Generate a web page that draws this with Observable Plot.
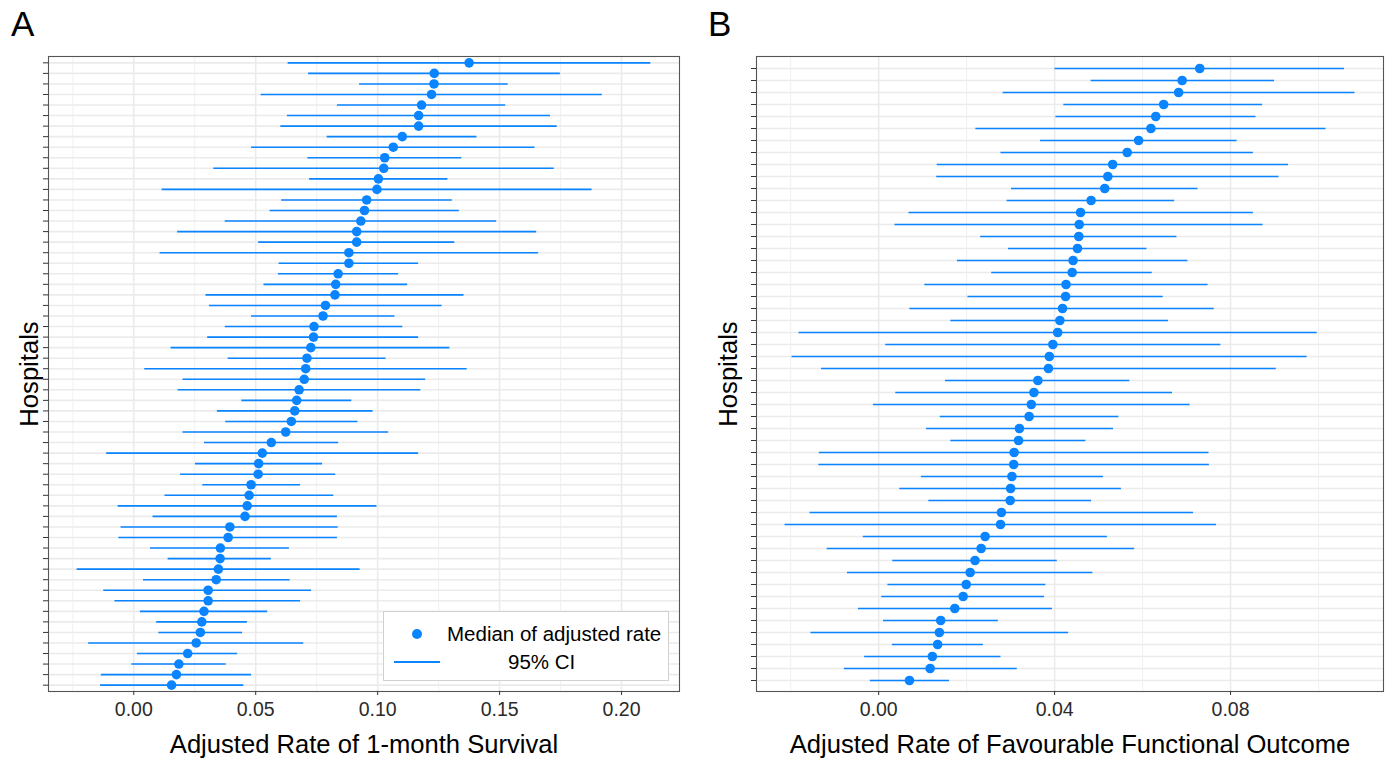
<!DOCTYPE html>
<html>
<head>
<meta charset="utf-8">
<script src="https://cdn.jsdelivr.net/npm/d3@7"></script>
<script src="https://cdn.jsdelivr.net/npm/@observablehq/plot@0.6"></script>
<style>
  html, body { margin: 0; padding: 0; background: #fff; }
  #root { position: relative; width: 1389px; height: 759px; font-family: "Liberation Sans", Arial, Helvetica, sans-serif; overflow: hidden; }
  .panel { position: absolute; top: 0; }
  .tag { position: absolute; font-size: 35px; line-height: 1; color: #000; }
  .legend { position: absolute; background: #fff; border: 1px solid #d0d0d0; box-sizing: border-box; }
  .legend .txt { position: absolute; font-size: 20.5px; color: #000; line-height: 1; white-space: nowrap; }
</style>
</head>
<body>
<div id="root"></div>
<script>
// ---------- Panel A: Adjusted Rate of 1-month Survival (top row to bottom row) ----------
const hospitalsA = Array.from({length: 60}, (_, i) => "A" + (i + 1));
const medianA = [0.1375,0.1232,0.1231,0.1221,0.1180,0.1168,0.1168,0.1101,0.1064,0.1029,0.1025,0.1003,0.0997,0.0955,0.0946,0.0931,0.0914,0.0914,0.0882,0.0882,0.0838,0.0828,0.0825,0.0786,0.0776,0.0739,0.0737,0.0726,0.0710,0.0705,0.0699,0.0678,0.0668,0.0660,0.0646,0.0623,0.0564,0.0527,0.0512,0.0510,0.0481,0.0473,0.0465,0.0456,0.0394,0.0387,0.0355,0.0354,0.0347,0.0338,0.0305,0.0305,0.0288,0.0279,0.0273,0.0256,0.0221,0.0185,0.0175,0.0155];
const lowerA = [0.0633,0.0717,0.0926,0.0522,0.0835,0.0630,0.0603,0.0793,0.0483,0.0714,0.0328,0.0721,0.0116,0.0606,0.0559,0.0375,0.0180,0.0512,0.0108,0.0596,0.0593,0.0534,0.0296,0.0310,0.0483,0.0375,0.0303,0.0153,0.0387,0.0045,0.0202,0.0182,0.0443,0.0343,0.0377,0.0202,0.0290,-0.0111,0.0253,0.0192,0.0283,0.0128,-0.0064,0.0079,-0.0052,-0.0061,0.0069,0.0141,-0.0232,0.0040,-0.0123,-0.0077,0.0027,0.0094,0.0103,-0.0185,0.0015,-0.0008,-0.0133,-0.0136];
const upperA = [0.2120,0.1749,0.1535,0.1921,0.1525,0.1709,0.1736,0.1407,0.1645,0.1345,0.1724,0.1288,0.1879,0.1306,0.1335,0.1488,0.1652,0.1316,0.1660,0.1168,0.1086,0.1123,0.1354,0.1264,0.1071,0.1103,0.1168,0.1296,0.1034,0.1367,0.1197,0.1177,0.0894,0.0981,0.0919,0.1045,0.0840,0.1168,0.0774,0.0828,0.0684,0.0820,0.0997,0.0835,0.0838,0.0835,0.0638,0.0564,0.0928,0.0641,0.0729,0.0684,0.0549,0.0466,0.0446,0.0697,0.0426,0.0379,0.0483,0.0451];
const ticksA = [0.00, 0.05, 0.10, 0.15, 0.20];
const minorA = [-0.025, 0.025, 0.075, 0.125, 0.175];
const titleA = "Adjusted Rate of 1-month Survival";

// ---------- Panel B: Adjusted Rate of Favourable Functional Outcome ----------
const hospitalsB = Array.from({length: 52}, (_, i) => "B" + (i + 1));
const medianB = [0.0730,0.0690,0.0682,0.0648,0.0630,0.0619,0.0591,0.0565,0.0532,0.0521,0.0514,0.0483,0.0459,0.0456,0.0455,0.0452,0.0442,0.0440,0.0426,0.0425,0.0418,0.0412,0.0407,0.0396,0.0388,0.0386,0.0362,0.0353,0.0347,0.0342,0.0320,0.0318,0.0308,0.0307,0.0303,0.0300,0.0299,0.0279,0.0277,0.0242,0.0233,0.0219,0.0208,0.0199,0.0192,0.0173,0.0141,0.0138,0.0134,0.0122,0.0117,0.0070];
const lowerB = [0.0401,0.0483,0.0283,0.0421,0.0403,0.0221,0.0368,0.0278,0.0133,0.0132,0.0302,0.0292,0.0069,0.0037,0.0232,0.0295,0.0179,0.0257,0.0105,0.0203,0.0071,0.0164,-0.0181,0.0016,-0.0197,-0.0130,0.0152,0.0039,-0.0012,0.0140,0.0109,0.0164,-0.0135,-0.0136,0.0097,0.0048,0.0114,-0.0156,-0.0213,-0.0035,-0.0117,0.0032,-0.0071,0.0021,0.0007,-0.0046,0.0011,-0.0154,0.0031,-0.0032,-0.0078,-0.0019];
const upperB = [0.1059,0.0900,0.1083,0.0873,0.0858,0.1017,0.0815,0.0852,0.0932,0.0910,0.0726,0.0673,0.0852,0.0874,0.0678,0.0610,0.0703,0.0622,0.0749,0.0647,0.0763,0.0659,0.0997,0.0778,0.0974,0.0904,0.0571,0.0668,0.0708,0.0546,0.0534,0.0471,0.0751,0.0752,0.0511,0.0552,0.0484,0.0716,0.0768,0.0520,0.0582,0.0406,0.0487,0.0380,0.0377,0.0395,0.0272,0.0432,0.0238,0.0278,0.0315,0.0161];
const ticksB = [0.00, 0.04, 0.08];
const minorB = [-0.02, 0.02, 0.06, 0.10];
const titleB = "Adjusted Rate of Favourable Functional Outcome";

const legendLabels = ["Median of adjusted rate", "95% CI"];
const BLUE = "#0a84ff";

function panel(ids, med, lo, hi, ticks, minor, title, opts) {
  const rows = ids.map((id, i) => ({id, med: med[i], lo: lo[i], hi: hi[i]}));
  const mn = d3.min(lo), mx = d3.max(hi), pad = (mx - mn) * 0.05;
  return Plot.plot({
    width: opts.width, height: 759,
    marginLeft: opts.marginLeft, marginRight: opts.marginRight,
    marginTop: 56, marginBottom: 68,
    style: {fontFamily: '"Liberation Sans", Arial, Helvetica, sans-serif', background: "#fff", color: "#333", fontSize: "19.5px"},
    x: {domain: [mn - pad, mx + pad]},
    y: {type: "point", domain: ids, padding: 0.6},
    marks: [
      Plot.ruleX(minor, {stroke: "#efefef", strokeWidth: 0.9}),
      Plot.ruleX(ticks, {stroke: "#ebebeb", strokeWidth: 1.6}),
      Plot.ruleY(ids, {stroke: "#ebebeb", strokeWidth: 1.6}),
      Plot.ruleY(rows, {y: "id", x1: "lo", x2: "hi", stroke: BLUE, strokeWidth: 1.6}),
      Plot.dot(rows, {x: "med", y: "id", r: 4.8, fill: BLUE, stroke: "none"}),
      Plot.frame({stroke: "#555", strokeWidth: 1.1}),
      Plot.axisX(ticks, {tickFormat: d3.format(".2f"), tickSize: 4, tickPadding: 7, fontSize: 19.5, label: null, fill: "#2a2a2a"}),
      Plot.axisY({tickSize: 5, tickFormat: () => "", label: null}),
      Plot.text([title], {frameAnchor: "bottom", dy: 53, lineAnchor: "middle", textAnchor: "middle", fontSize: 25.6, fill: "#000"}),
      Plot.text(["Hospitals"], {frameAnchor: "left", dx: opts.ylabelDx, rotate: -90, textAnchor: "middle", lineAnchor: "middle", fontSize: 25.6, fill: "#000"})
    ]
  });
}

const root = document.getElementById("root");
const a = panel(hospitalsA, medianA, lowerA, upperA, ticksA, minorA, titleA, {width: 695, marginLeft: 48, marginRight: 16, ylabelDx: -19});
a.classList.add("panel"); a.style.left = "0px";
root.appendChild(a);
const b = panel(hospitalsB, medianB, lowerB, upperB, ticksB, minorB, titleB, {width: 694, marginLeft: 61, marginRight: 6, ylabelDx: -28});
b.classList.add("panel"); b.style.left = "695px";
root.appendChild(b);

// panel tags
[["A", 11], ["B", 708]].forEach(([t, x]) => {
  const d = document.createElement("div");
  d.className = "tag"; d.textContent = t;
  d.style.left = x + "px"; d.style.top = "6px";
  root.appendChild(d);
});

// legend (panel A, inside bottom right)
const lg = document.createElement("div");
lg.className = "legend";
Object.assign(lg.style, {left: "383px", top: "611px", width: "286px", height: "70px"});
const dot = document.createElement("div");
Object.assign(dot.style, {position: "absolute", left: "28px", top: "17px", width: "10px", height: "10px", borderRadius: "50%", background: BLUE});
const line = document.createElement("div");
Object.assign(line.style, {position: "absolute", left: "10px", top: "49px", width: "46px", height: "2px", background: BLUE});
const t1 = document.createElement("div"); t1.className = "txt"; t1.textContent = legendLabels[0];
Object.assign(t1.style, {left: "63px", top: "12px"});
const t2 = document.createElement("div"); t2.className = "txt"; t2.textContent = legendLabels[1];
Object.assign(t2.style, {left: "124px", top: "40px"});
lg.append(dot, line, t1, t2);
root.appendChild(lg);
</script>
</body>
</html>
